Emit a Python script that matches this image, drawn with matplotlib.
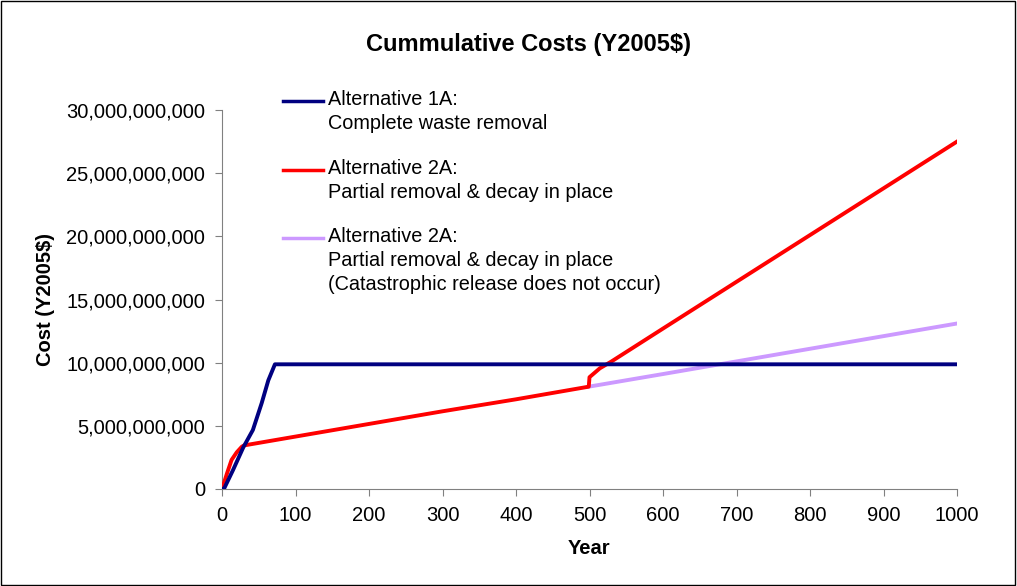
import matplotlib
matplotlib.use("Agg")
import matplotlib.pyplot as plt
from matplotlib.lines import Line2D
from matplotlib.ticker import FuncFormatter

# Values (cost in $)
YEARS_1A = [0, 3, 15, 29, 42, 54, 63, 72, 200, 400, 600, 800, 1000]
COST_1A = [0, 0.05e9, 1.5e9, 3.3e9, 4.67e9, 6.8e9, 8.6e9, 9.87e9, 9.87e9, 9.87e9, 9.87e9, 9.87e9, 9.87e9]

YEARS_2A = [0, 7, 13, 20, 27, 30, 100, 200, 300, 400, 499, 500, 514, 530, 600, 700, 800, 900, 1000]
COST_2A = [0, 1.27e9, 2.3e9, 2.9e9, 3.35e9, 3.45e9, 4.15e9, 5.15e9, 6.15e9, 7.1e9, 8.1e9, 8.85e9, 9.55e9,
           10.1e9, 12.7e9, 16.4e9, 20.1e9, 23.8e9, 27.5e9]

YEARS_2A_NC = [499, 600, 700, 800, 900, 1000]
COST_2A_NC = [8.1e9, 9.1e9, 10.1e9, 11.1e9, 12.1e9, 13.1e9]

LABELS = [
    "Alternative 1A:\nComplete waste removal",
    "Alternative 2A:\nPartial removal & decay in place",
    "Alternative 2A:\nPartial removal & decay in place\n(Catastrophic release does not occur)",
]
COLORS = ["#000080", "#ff0000", "#cc99ff"]

plt.rcParams["font.family"] = ["Liberation Sans", "DejaVu Sans"]

W, H = 1017, 586
fig = plt.figure(figsize=(W / 100, H / 100), dpi=100)
ax = fig.add_axes([222 / W, 1 - 489 / H, 735 / W, 379 / H])

ax.plot(YEARS_2A_NC, COST_2A_NC, color=COLORS[2], lw=2.8, zorder=2)
ax.plot(YEARS_2A, COST_2A, color=COLORS[1], lw=2.8, zorder=3)
ax.plot(YEARS_1A, COST_1A, color=COLORS[0], lw=2.8, zorder=4)

ax.set_xlim(0, 1000)
ax.set_ylim(0, 30e9)
ax.set_xticks(range(0, 1001, 100))
ax.set_yticks([i * 5e9 for i in range(7)])
ax.yaxis.set_major_formatter(FuncFormatter(lambda v, p: f"{v:,.0f}"))
ax.tick_params(direction="out", length=5, color="#808080", labelsize=14.5, pad=7)
for s in ["top", "right"]:
    ax.spines[s].set_visible(False)
for s in ["left", "bottom"]:
    ax.spines[s].set_color("#808080")

ax.set_xlabel("Year", fontsize=14.5, weight="bold", labelpad=10)
ax.set_ylabel("Cost (Y2005$)", fontsize=14.5, weight="bold", labelpad=8)
fig.text(528 / W, 1 - 45 / H, "Cummulative Costs (Y2005$)", fontsize=17, weight="bold",
         ha="center", va="center")

# legend drawn by hand so the line sits beside the first text line
for (ly, lab, col) in zip([101, 170, 238], LABELS, COLORS):
    fig.add_artist(Line2D([283 / W, 323 / W], [1 - ly / H] * 2, color=col, lw=2.5))
    fig.text(328 / W, 1 - (ly - 11) / H, lab, fontsize=14.3, ha="left", va="top",
             linespacing=1.32)

fig.patches.append(plt.Rectangle((0.001, 0.001), 0.997, 0.997, transform=fig.transFigure,
                                 fill=False, edgecolor="black", lw=1))
fig.savefig("out.png", dpi=100)
